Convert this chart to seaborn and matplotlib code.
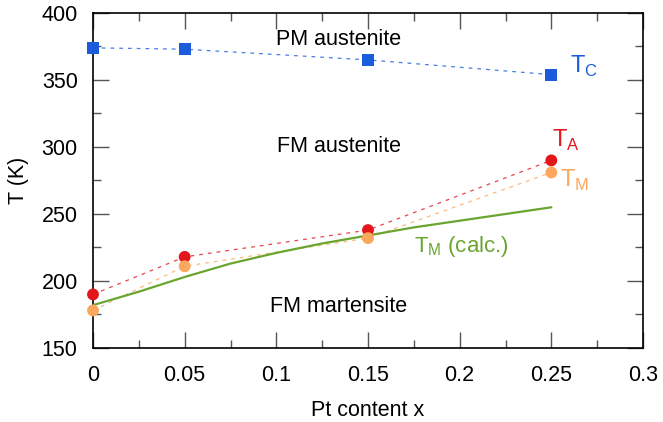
import matplotlib
matplotlib.use("Agg")
import matplotlib.pyplot as plt
import seaborn as sns
import pandas as pd
from matplotlib.ticker import MultipleLocator

x_exp = [0.0, 0.05, 0.15, 0.25]
t_c = [374, 373, 365, 354]
t_a = [190, 218, 238, 290]
t_m = [178, 211, 232, 281]
x_calc = [0.0, 0.025, 0.05, 0.075, 0.1, 0.125, 0.15, 0.175, 0.2, 0.225, 0.25]
t_m_calc = [182, 192, 203, 213, 221, 228, 234, 240, 245, 250, 255]

blue = "#1a5cdc"
red = "#e3161c"
orange = "#fca75e"
green = "#6aa530"

sns.set_style("ticks")
plt.rcParams['font.family'] = ['Liberation Sans', 'DejaVu Sans']
plt.rcParams['text.color'] = 'black'
plt.rcParams['axes.labelcolor'] = 'black'

fig = plt.figure(figsize=(6.63, 4.22), dpi=100)
ax = fig.add_axes([93/663, 1-348/422, 550/663, 335/422])

df = pd.DataFrame({"x": x_exp, "TC": t_c, "TA": t_a, "TM": t_m})
dfc = pd.DataFrame({"x": x_calc, "T": t_m_calc})

sns.lineplot(data=dfc, x="x", y="T", ax=ax, color=green, lw=1.6, zorder=3)
for col, c, mk, ms in [("TC", blue, "s", 9), ("TA", red, "o", 9), ("TM", orange, "o", 9)]:
    sns.lineplot(data=df, x="x", y=col, ax=ax, color=c, lw=0.9, alpha=0.8,
                 dashes=False, linestyle=(0, (3, 4)), zorder=2)
    sns.scatterplot(data=df, x="x", y=col, ax=ax, color=c, marker=mk, s=ms**2 * 0.9,
                    edgecolor="none", zorder=4, clip_on=False)

ax.set_xlim(0, 0.3)
ax.set_ylim(150, 400)
ax.xaxis.set_major_locator(MultipleLocator(0.05))
ax.xaxis.set_minor_locator(MultipleLocator(0.025))
ax.yaxis.set_major_locator(MultipleLocator(50))
ax.yaxis.set_minor_locator(MultipleLocator(25))
ax.set_xticks([0, 0.05, 0.1, 0.15, 0.2, 0.25, 0.3])
ax.set_xticklabels(["0", "0.05", "0.1", "0.15", "0.2", "0.25", "0.3"])
ax.tick_params(which="both", direction="in", top=True, right=True, color="#555555",
               labelsize=15.5, labelcolor="black")
ax.tick_params(which="major", length=11.5, width=1)
ax.tick_params(which="minor", length=5.5, width=1)
ax.tick_params(axis="x", pad=12.5)
ax.tick_params(axis="y", pad=11)
for s in ax.spines.values():
    s.set_linewidth(1.2)
    s.set_color("black")

ax.set_xlabel("Pt content x", fontsize=15.5, labelpad=10, color="black")
ax.set_ylabel("T (K)", fontsize=15.5, labelpad=9, color="black")

ax.text(0.134, 380, "PM austenite", fontsize=15.5, ha="center", va="center", color="black")
ax.text(0.134, 300, "FM austenite", fontsize=15.5, ha="center", va="center", color="black")
ax.text(0.134, 181, "FM martensite", fontsize=15.5, ha="center", va="center", color="black")
ax.text(0.26, 360, r"T$_\mathregular{C}$", fontsize=17, color=blue, ha="left", va="center")
ax.text(0.2505, 305, r"T$_\mathregular{A}$", fontsize=17, color=red, ha="left", va="center")
ax.text(0.2545, 275, r"T$_\mathregular{M}$", fontsize=17, color=orange, ha="left", va="center")
ax.text(0.175, 226, r"T$_\mathregular{M}$ (calc.)", fontsize=16, color=green, ha="left", va="center")

fig.savefig("out.png", dpi=100)
